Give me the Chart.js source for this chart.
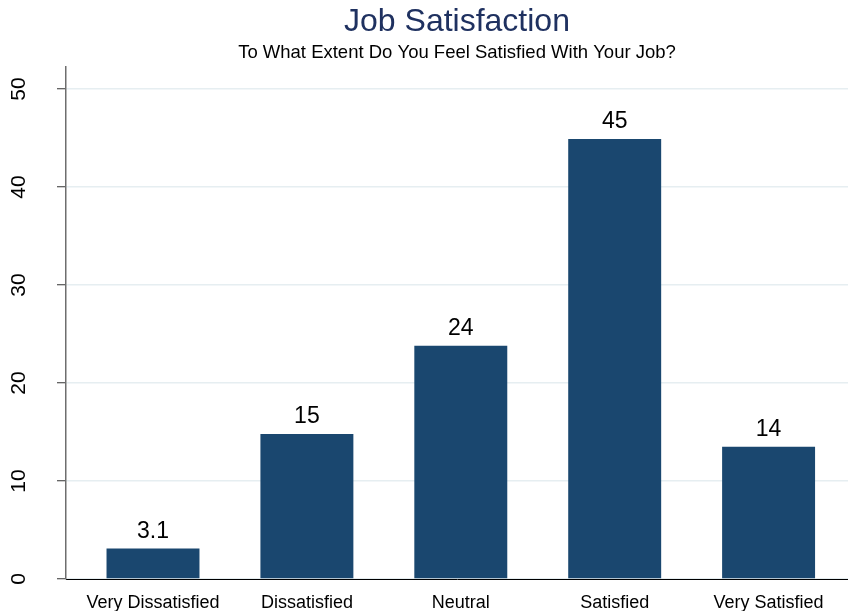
<!DOCTYPE html>
<html>
<head>
<meta charset="utf-8">
<script src="https://cdn.jsdelivr.net/npm/chart.js@4/dist/chart.umd.min.js"></script>
<style>
  html, body { margin: 0; padding: 0; background: #ffffff; }
  #wrap { width: 848px; height: 611px; }
</style>
</head>
<body>
<div id="wrap"><canvas id="c" width="848" height="611"></canvas></div>
<script>
// ---- data ----
const categories = ["Very Dissatisfied", "Dissatisfied", "Neutral", "Satisfied", "Very Satisfied"];
const percents = [3.1, 14.8, 23.8, 44.9, 13.5];
const valueLabels = ["3.1", "15", "24", "45", "14"];
const yTicks = [0, 10, 20, 30, 40, 50];
const titleText = "Job Satisfaction";
const subtitleText = "To What Extent Do You Feel Satisfied With Your Job?";

const FONT = "'Liberation Sans', Arial, Helvetica, sans-serif";

const barLabels = {
  id: 'barLabels',
  afterDatasetsDraw(chart) {
    const ctx = chart.ctx;
    const meta = chart.getDatasetMeta(0);
    ctx.save();
    ctx.font = "23px " + FONT;
    ctx.fillStyle = "#000000";
    ctx.textAlign = "center";
    ctx.textBaseline = "alphabetic";
    meta.data.forEach((bar, i) => {
      ctx.fillText(valueLabels[i], bar.x, bar.y - 11);
    });
    ctx.restore();
  }
};

new Chart(document.getElementById('c'), {
  type: 'bar',
  data: {
    datasets: [{
      data: categories.map((c, i) => ({ x: i, y: percents[i] })),
      backgroundColor: '#1a476f',
      borderWidth: 0,
      barPercentage: 0.604,
      categoryPercentage: 1.0
    }]
  },
  options: {
    responsive: false,
    animation: false,
    devicePixelRatio: 1,
    layout: { padding: 0 },
    plugins: {
      legend: { display: false },
      tooltip: { enabled: false },
      title: {
        display: true,
        text: titleText,
        fullSize: false,
        color: '#1f3160',
        font: { family: FONT, size: 32, weight: 'normal' },
        padding: { top: 3, bottom: 0 }
      },
      subtitle: {
        display: true,
        text: subtitleText,
        fullSize: false,
        color: '#000000',
        font: { family: FONT, size: 18.5, weight: 'normal' },
        padding: { top: 0, bottom: 3.4 }
      }
    },
    scales: {
      x: {
        type: 'linear',
        offset: false,
        min: -0.5653,
        max: 4.516,
        afterBuildTicks: (scale) => { scale.ticks = categories.map((c, i) => ({ value: i })); },
        afterFit: (scale) => { scale.height = 32; },
        grid: { display: false, drawTicks: false, offset: false },
        border: { display: true, color: '#000000', width: 1 },
        ticks: {
          autoSkip: false,
          maxRotation: 0,
          minRotation: 0,
          padding: 13,
          color: '#000000',
          font: { family: FONT, size: 18 },
          callback: (v) => categories[v]
        }
      },
      y: {
        type: 'linear',
        min: 0,
        max: 52.24,
        afterBuildTicks: (scale) => { scale.ticks = yTicks.map(v => ({ value: v })); },
        afterFit: (scale) => { scale.width = 66; scale.paddingTop = 0; scale.paddingBottom = 0; },
        grid: {
          color: '#e6eef1',
          lineWidth: 1.5,
          tickColor: '#333333',
          tickWidth: 1,
          tickLength: 9,
          drawTicks: true
        },
        border: { display: true, color: '#6e6e6e', width: 1.5 },
        ticks: {
          minRotation: 90,
          maxRotation: 90,
          crossAlign: 'center',
          padding: 25.8,
          color: '#000000',
          font: { family: FONT, size: 21 }
        }
      }
    }
  },
  plugins: [barLabels]
});
</script>
</body>
</html>
